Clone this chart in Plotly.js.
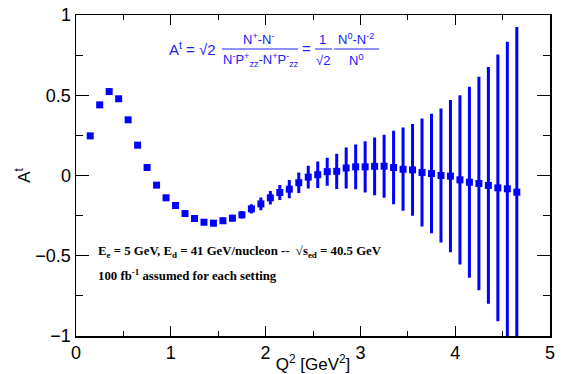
<!DOCTYPE html>
<html>
<head>
<meta charset="utf-8">
<script src="https://cdn.plot.ly/plotly-3.0.1.min.js"></script>
<style>html,body{margin:0;padding:0;background:#fff;}#chart{width:568px;height:374px;}</style>
</head>
<body>
<div id="chart"></div>
<script>
// Data
const q2 = [0.15,0.25,0.35,0.45,0.55,0.65,0.75,0.85,0.95,1.05,1.15,1.25,1.35,1.45,1.55,1.65,1.75,1.85,1.95,2.05,2.15,2.25,2.35,2.45,2.55,2.65,2.75,2.85,2.95,3.05,3.15,3.25,3.35,3.45,3.55,3.65,3.75,3.85,3.95,4.05,4.15,4.25,4.35,4.45,4.55,4.65];
const at = [0.247,0.44,0.523,0.478,0.347,0.189,0.05,-0.06,-0.139,-0.187,-0.237,-0.268,-0.291,-0.297,-0.282,-0.266,-0.245,-0.208,-0.177,-0.139,-0.106,-0.085,-0.045,-0.01,0.005,0.024,0.026,0.047,0.054,0.054,0.057,0.058,0.05,0.039,0.035,0.019,0.012,0.0,-0.004,-0.027,-0.042,-0.05,-0.062,-0.077,-0.083,-0.104];
const atErr = [0.003,0.003,0.004,0.004,0.004,0.005,0.005,0.006,0.006,0.007,0.008,0.008,0.009,0.01,0.011,0.012,0.014,0.02,0.03,0.033,0.038,0.048,0.054,0.062,0.073,0.078,0.1,0.118,0.13,0.15,0.17,0.187,0.22,0.25,0.277,0.327,0.363,0.408,0.465,0.518,0.585,0.656,0.728,0.822,0.907,1.02];
const yTickVals = [-1,-0.5,0,0.5,1];
const yTickText = ['\u22121','\u22120.5','0','0.5','1'];
const xTickVals = [0,1,2,3,4,5];
const xTickText = ['0','1','2','3','4','5'];

const W = 568, H = 374;
const M = {l:76, r:18, t:15, b:38};
const pw = W - M.l - M.r, ph = H - M.t - M.b;
const px = x => (x - M.l) / pw;
const py = y => (H - M.b - y) / ph;

const blue = '#0000ff';
const fBlue = {family:'Liberation Sans, Arial, sans-serif', size:15, color:'#2020ff'};
const fBlueS = {family:'Liberation Sans, Arial, sans-serif', size:13, color:'#2020ff'};
const fSerif = {family:'Liberation Serif, Times New Roman, serif', size:12.8, color:'#000'};

function ann(text, x, y, font, xanchor) {
  return {text:text, xref:'paper', yref:'paper', x:px(x), y:py(y), showarrow:false,
          xanchor:xanchor||'center', yanchor:'middle', font:font};
}
function hline(x0, x1, y) {
  return {type:'line', xref:'paper', yref:'paper', x0:px(x0), x1:px(x1), y0:py(y), y1:py(y),
          line:{color:'#2020ff', width:1}};
}

const trace = {
  x:q2, y:at, type:'scatter', mode:'markers',
  marker:{symbol:'square', size:7, color:blue, line:{width:0}},
  error_y:{type:'data', array:atErr, visible:true, color:blue, thickness:3, width:1.5},
  cliponaxis:true, hoverinfo:'x+y'
};

const axisCommon = {
  showline:true, linecolor:'#000', linewidth:1.5, mirror:'ticks',
  ticks:'inside', tickcolor:'#000', tickwidth:1, showgrid:false, zeroline:false,
  tickfont:{family:'Liberation Sans, Arial, sans-serif', size:18, color:'#000'}
};

const layout = {
  width:W, height:H, margin:M, paper_bgcolor:'#fff', plot_bgcolor:'#fff', showlegend:false,
  xaxis: Object.assign({}, axisCommon, {
    range:[0,5], tickvals:xTickVals, ticktext:xTickText, ticklen:10,
    minor:{ticks:'inside', dtick:0.5, tick0:0, ticklen:5, tickcolor:'#000', tickwidth:1, showgrid:false},
    title:{text:'Q<sup>2</sup> [GeV<sup>2</sup>]', standoff:0,
           font:{family:'Liberation Sans, Arial, sans-serif', size:17, color:'#000'}}
  }),
  yaxis: Object.assign({}, axisCommon, {
    range:[-1,1], tickvals:yTickVals, ticktext:yTickText, ticklen:13,
    minor:{ticks:'inside', dtick:0.25, tick0:0, ticklen:7, tickcolor:'#000', tickwidth:1, showgrid:false},
    title:{text:'A<sup>t</sup>', standoff:0,
           font:{family:'Liberation Sans, Arial, sans-serif', size:17, color:'#000'}}
  }),
  annotations:[
    ann('A<sup>t</sup> = \u221A2', 167, 48, fBlue, 'left'),
    ann('N<sup>+</sup>-N<sup>-</sup>', 258, 39, fBlueS),
    ann('N<sup>-</sup>P<sup>+</sup><sub>zz</sub>-N<sup>+</sup>P<sup>-</sup><sub>zz</sub>', 261, 60, fBlueS),
    ann('=', 306, 48, fBlue),
    ann('1', 322, 39, fBlueS),
    ann('\u221A2', 323, 60, fBlueS),
    ann('N<sup>0</sup>-N<sup>-2</sup>', 356, 39, fBlueS),
    ann('N<sup>0</sup>', 356, 60, fBlueS),
    ann('<b>E<sub>e</sub> = 5 GeV, E<sub>d</sub> = 41 GeV/nucleon --  \u221As<sub>ed</sub> = 40.5 GeV</b>', 96, 252, fSerif, 'left'),
    ann('<b>100 fb<sup>-1</sup> assumed for each setting</b>', 96, 275, fSerif, 'left')
  ],
  shapes:[
    hline(222, 298, 49),
    hline(315, 332, 49),
    hline(334, 379, 49)
  ]
};

Plotly.newPlot('chart', [trace], layout, {staticPlot:true, displayModeBar:false});
</script>
</body>
</html>
